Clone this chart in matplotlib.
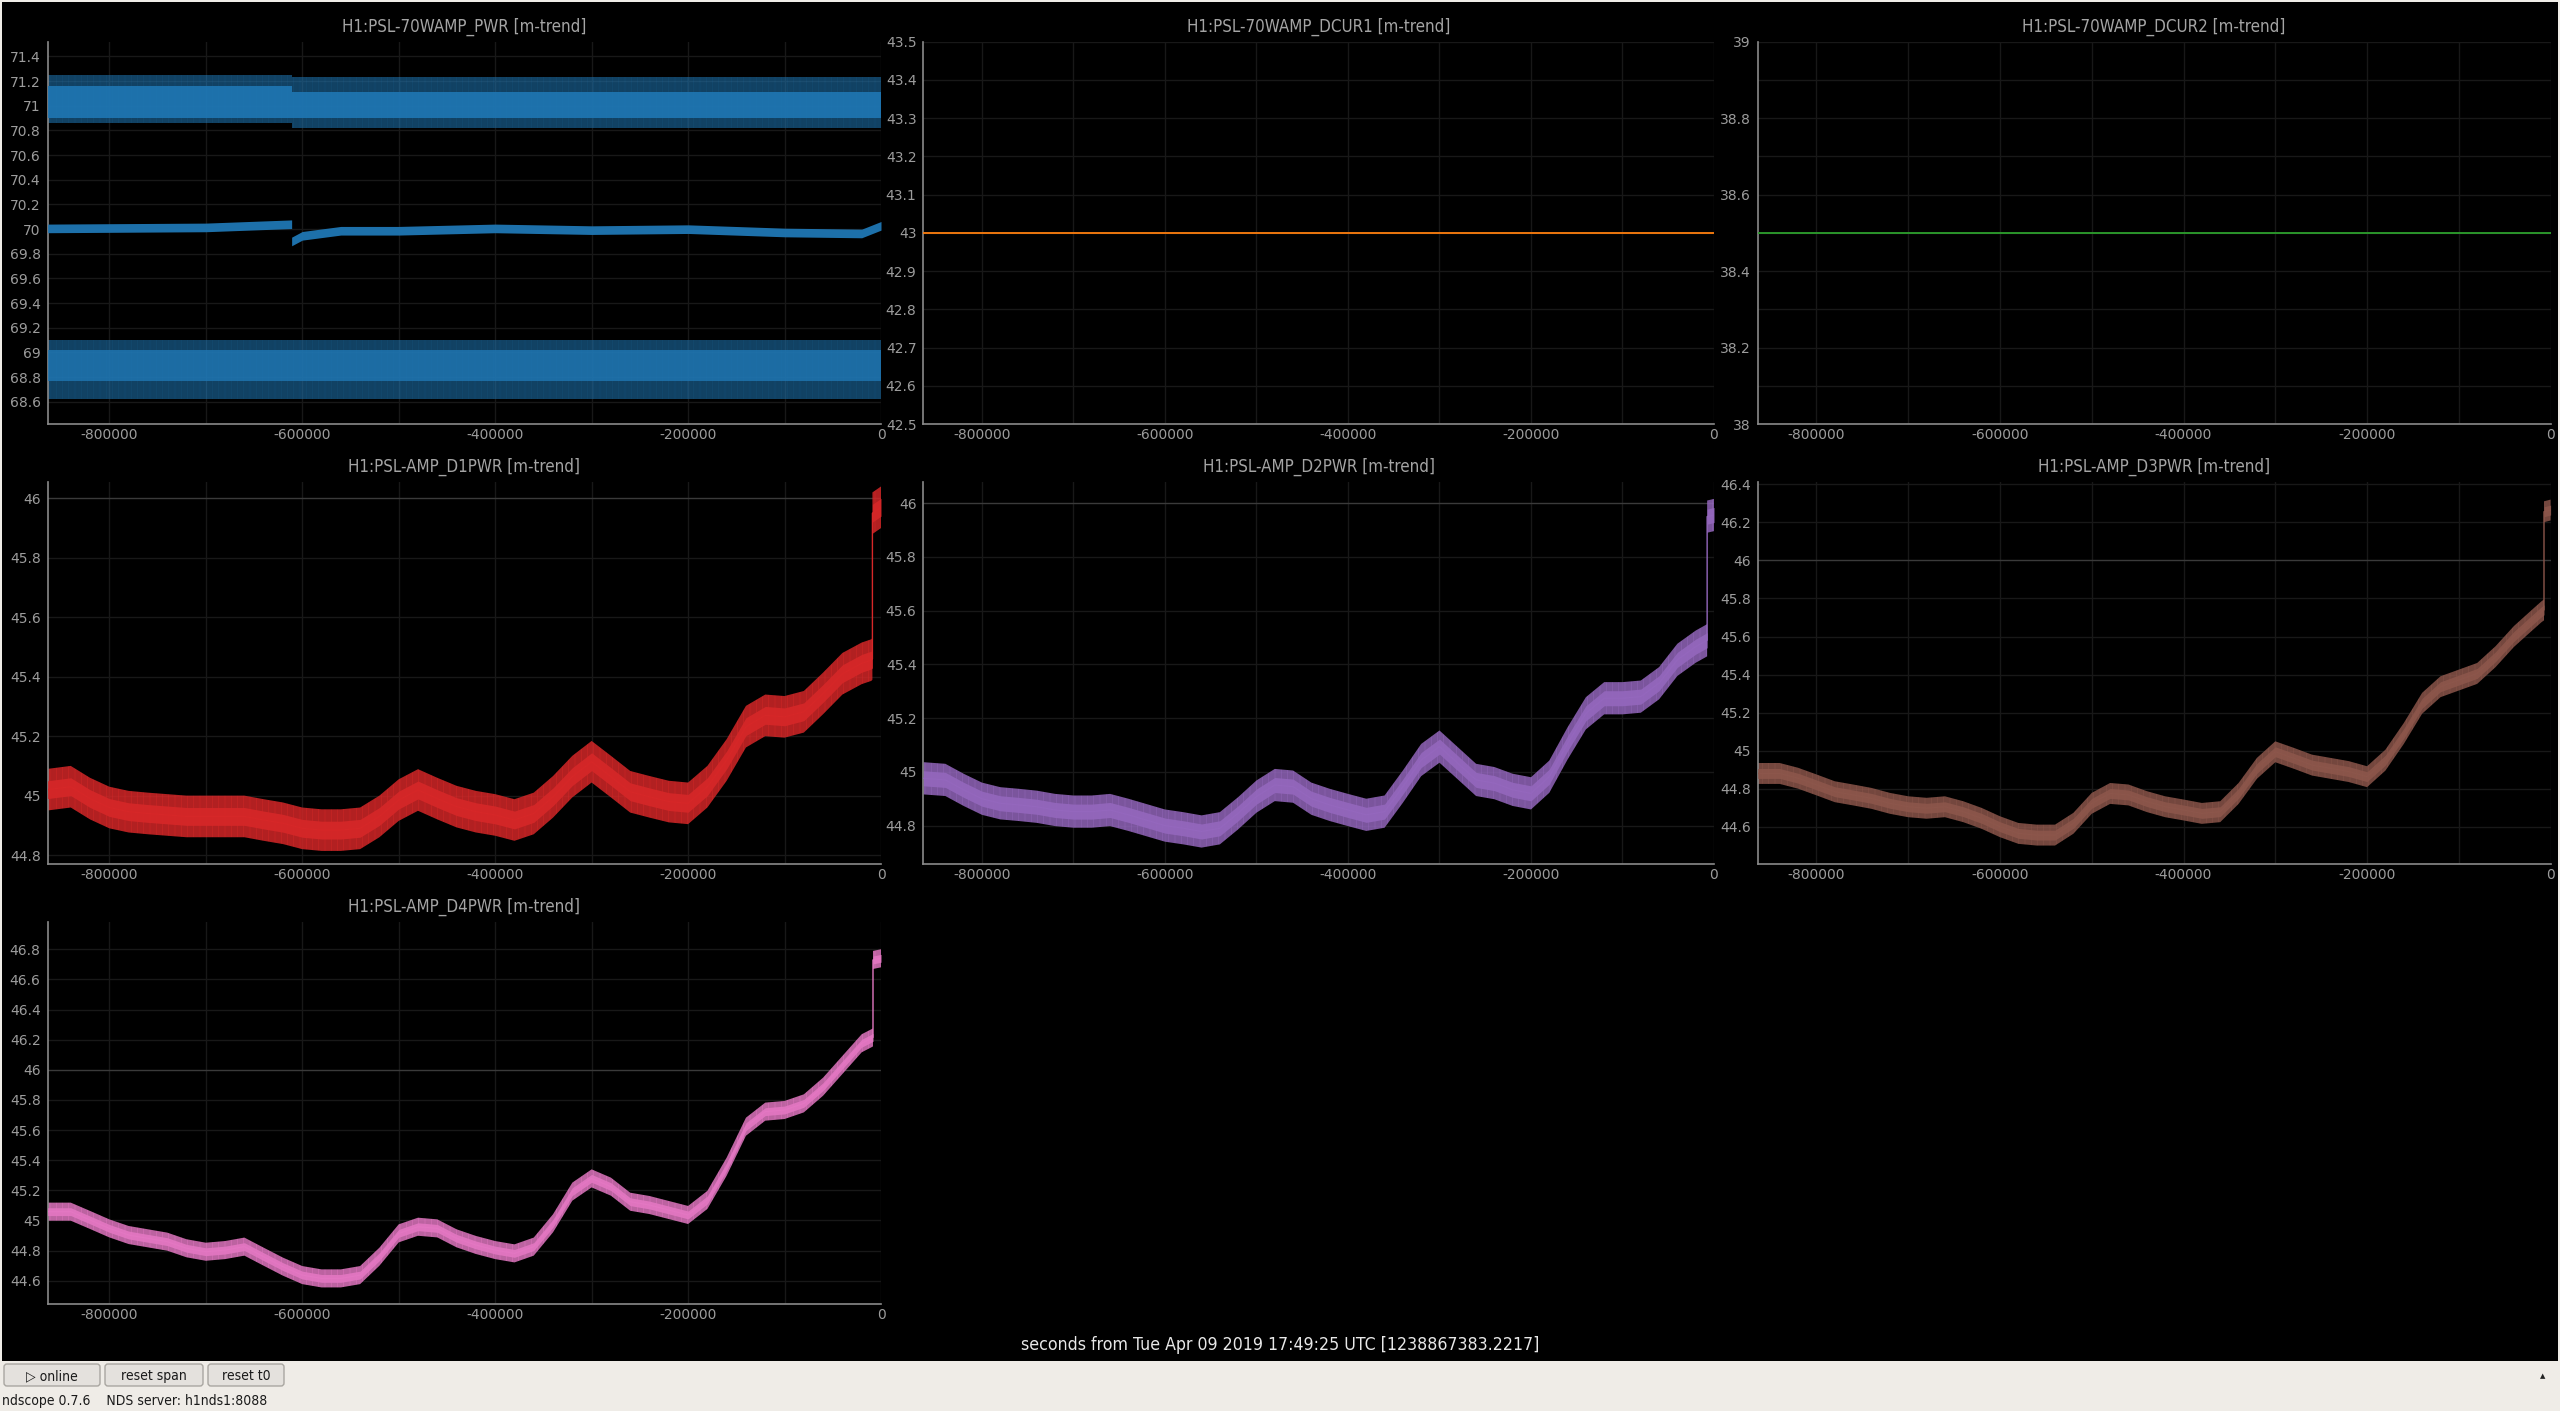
import matplotlib
matplotlib.use("Agg")
import matplotlib.pyplot as plt
from matplotlib.patches import Rectangle, FancyBboxPatch
from matplotlib.ticker import FuncFormatter

W, H = 2560, 1411

# --- data (minute trends, seconds relative to t0) ---
t_pts = [-864000, -840000, -820000, -800000, -780000, -760000, -740000, -720000,
         -700000, -680000, -660000, -640000, -620000, -600000, -580000, -560000,
         -540000, -520000, -500000, -480000, -460000, -440000, -420000, -400000,
         -380000, -360000, -340000, -320000, -300000, -280000, -260000, -240000,
         -220000, -200000, -180000, -160000, -140000, -120000, -100000, -80000,
         -60000, -40000, -20000, -10000]

# last three values: before jump, after jump, at t=0
d1_vals = [45.02, 45.03, 44.99, 44.96, 44.946, 44.94, 44.935, 44.93, 44.93, 44.93,
           44.93, 44.918, 44.907, 44.89, 44.884, 44.884, 44.89, 44.93, 44.985, 45.019,
           44.99, 44.963, 44.946, 44.935, 44.918, 44.94, 44.996, 45.064, 45.114, 45.064,
           45.013, 44.996, 44.98, 44.974, 45.03, 45.12, 45.232, 45.27, 45.265, 45.282,
           45.344, 45.41, 45.445, 45.456, 45.46, 45.95, 45.97]
d2_vals = [44.976, 44.97, 44.933, 44.90, 44.883, 44.877, 44.87, 44.858, 44.852, 44.852,
           44.858, 44.84, 44.82, 44.80, 44.79, 44.778, 44.79, 44.846, 44.908, 44.951,
           44.945, 44.90, 44.877, 44.858, 44.84, 44.852, 44.945, 45.044, 45.094, 45.032,
           44.97, 44.958, 44.933, 44.92, 44.982, 45.106, 45.218, 45.274, 45.274, 45.28,
           45.33, 45.417, 45.466, 45.485, 45.49, 45.95, 45.956]
d3_vals = [44.88, 44.88, 44.855, 44.82, 44.784, 44.767, 44.749, 44.723, 44.705, 44.697,
           44.705, 44.679, 44.644, 44.60, 44.565, 44.556, 44.556, 44.618, 44.723, 44.775,
           44.767, 44.732, 44.705, 44.688, 44.67, 44.679, 44.775, 44.907, 44.994, 44.96,
           44.924, 44.907, 44.89, 44.863, 44.95, 45.09, 45.249, 45.336, 45.371, 45.406,
           45.494, 45.60, 45.687, 45.73, 45.74, 46.256, 46.265]
d4_vals = [45.058, 45.058, 45.003, 44.947, 44.903, 44.881, 44.859, 44.815, 44.792, 44.803,
           44.826, 44.759, 44.693, 44.637, 44.615, 44.615, 44.637, 44.759, 44.914, 44.958,
           44.947, 44.881, 44.837, 44.803, 44.781, 44.826, 44.981, 45.191, 45.279, 45.224,
           45.124, 45.102, 45.069, 45.036, 45.136, 45.357, 45.622, 45.722, 45.733, 45.777,
           45.888, 46.032, 46.176, 46.209, 46.215, 46.729, 46.74]
jump_t = {"D1": -8900, "D2": -7500, "D3": -7200, "D4": -8300}
core_hw = {"D1": 0.03, "D2": 0.028, "D3": 0.026, "D4": 0.026}
fringe_hw = {"D1": 0.07, "D2": 0.06, "D3": 0.055, "D4": 0.06}

# 70WAMP_PWR: mean curve and min/max bands, step at ~-611000
pwr_t = [-864000, -700000, -611000, -611000, -600000, -560000, -500000, -400000,
         -300000, -200000, -100000, -20000, 0]
pwr_mean = [70.006, 70.014, 70.04, 69.90, 69.946, 69.987, 69.987, 70.006,
            69.992, 70.0, 69.973, 69.965, 70.027]
band_t = [-864000, -611000, -611000, 0]
max_core = ([71.03, 71.03, 71.03, 71.03], [71.16, 71.16, 71.11, 71.11])
max_mid = ([70.905, 70.905, 70.905, 70.905], [71.03, 71.03, 71.03, 71.03])
max_fringe = ([70.86, 70.86, 70.82, 70.82], [71.25, 71.25, 71.23, 71.23])
min_core = ([68.77, 68.77, 68.77, 68.77], [69.02, 69.02, 69.02, 69.02])
min_fringe = ([68.62, 68.62, 68.62, 68.62], [69.1, 69.1, 69.1, 69.1])

dcur1_t, dcur1_v = [-864000, 0], [43.0, 43.0]
dcur2_t, dcur2_v = [-864000, 0], [38.5, 38.5]

x_ticks = [-800000, -600000, -400000, -200000, 0]
x_grid = [-800000, -700000, -600000, -500000, -400000, -300000, -200000, -100000, 0]
pwr_yticks = [68.6, 68.8, 69.0, 69.2, 69.4, 69.6, 69.8, 70.0, 70.2, 70.4, 70.6,
              70.8, 71.0, 71.2, 71.4]
dcur1_yticks = [42.5, 42.6, 42.7, 42.8, 42.9, 43.0, 43.1, 43.2, 43.3, 43.4, 43.5]
dcur2_yticks = [38.0, 38.2, 38.4, 38.6, 38.8, 39.0]
dcur2_ygrid = [38.1, 38.3, 38.5, 38.7, 38.9]
d1_yticks = [44.8, 45.0, 45.2, 45.4, 45.6, 45.8, 46.0]
d2_yticks = [44.8, 45.0, 45.2, 45.4, 45.6, 45.8, 46.0]
d3_yticks = [44.6, 44.8, 45.0, 45.2, 45.4, 45.6, 45.8, 46.0, 46.2, 46.4]
d4_yticks = [44.6, 44.8, 45.0, 45.2, 45.4, 45.6, 45.8, 46.0, 46.2, 46.4, 46.6, 46.8]

# --- style ---
FONT = dict(family="DejaVu Sans", fontstretch="condensed")
TXT = "#9c9c9c"
GRID = "#181818"
GRID_HI = "#3a3a3a"
COLS = [(47.6, 881.0), (923.4, 1714.0), (1757.7, 2550.6)]
ROWS = [(41.7, 424.0), (481.7, 864.0), (921.7, 1304.0)]
HATCH = "|" * 14
plt.rcParams["hatch.linewidth"] = 0.8

fig = plt.figure(figsize=(W / 100, H / 100), dpi=100, facecolor="#efece7")

bg = fig.add_axes([0, 0, 1, 1])
bg.set_xlim(0, W)
bg.set_ylim(H, 0)
bg.axis("off")
bg.set_zorder(-5)
bg.add_patch(Rectangle((2, 2), W - 4, 1359, color="black", lw=0))


def make_axes(col, row, ylim, yticks, title, extra_grid=()):
    x0, x1 = COLS[col]
    y0, y1 = ROWS[row]
    ax = fig.add_axes([x0 / W, 1 - y1 / H, (x1 - x0) / W, (y1 - y0) / H])
    ax.set_facecolor("black")
    ax.set_xlim(-864000, 0)
    ax.set_ylim(*ylim)
    for s in ("top", "right"):
        ax.spines[s].set_visible(False)
    for s in ("left", "bottom"):
        ax.spines[s].set_color("#8a8a8a")
        ax.spines[s].set_linewidth(1.2)
    ax.set_xticks(x_ticks)
    ax.set_yticks(yticks)
    ax.xaxis.set_major_formatter(FuncFormatter(lambda v, p: "%d" % round(v)))
    ax.yaxis.set_major_formatter(FuncFormatter(lambda v, p: "%g" % round(v, 6)))
    ax.tick_params(length=0, colors=TXT, labelsize=10)
    ax.tick_params(axis="y", pad=5)
    ax.tick_params(axis="x", pad=3)
    for xg in x_grid:
        ax.axvline(xg, color=GRID, lw=1, zorder=0)
    for yg in list(yticks) + list(extra_grid):
        c = GRID_HI if abs(yg - 46.0) < 1e-6 else GRID
        ax.axhline(yg, color=c, lw=1, zorder=0)
    ax.text(0.5, 1 + 15 / (y1 - y0), title, transform=ax.transAxes, ha="center",
            va="center", color="#a4a4a4", fontsize=12.2, **FONT)
    return ax


def trend(ax, name, vals, color):
    t = t_pts + [jump_t[name], jump_t[name], 0]
    lo_f = [v - fringe_hw[name] for v in vals]
    hi_f = [v + fringe_hw[name] for v in vals]
    lo_c = [v - core_hw[name] for v in vals]
    hi_c = [v + core_hw[name] for v in vals]
    ax.fill_between(t, lo_f, hi_f, facecolor="none", edgecolor=color, hatch=HATCH,
                    lw=0, alpha=0.9, zorder=2)
    ax.fill_between(t, lo_c, hi_c, color=color, alpha=0.9, lw=0, zorder=3)
    ax.plot(t, vals, color=color, lw=1.0, zorder=4)


# row 1
ax = make_axes(0, 0, (68.42, 71.52), pwr_yticks, "H1:PSL-70WAMP_PWR [m-trend]")
blue = "#1f77b4"
for lo, hi in (max_fringe, min_fringe):
    ax.fill_between(band_t, lo, hi, facecolor="none", edgecolor=blue, hatch=HATCH,
                    lw=0, alpha=0.6, zorder=2)
ax.fill_between(band_t, *max_mid, facecolor="none", edgecolor=blue, hatch="|" * 24,
                lw=0, alpha=0.9, zorder=3)
ax.fill_between(band_t, *max_core, color=blue, alpha=0.9, lw=0, zorder=4)
ax.fill_between(band_t, *min_core, color=blue, alpha=0.8, lw=0, zorder=4)
ax.fill_between(pwr_t, [v - 0.035 for v in pwr_mean], [v + 0.035 for v in pwr_mean],
                color=blue, alpha=0.95, lw=0, zorder=4)

ax = make_axes(1, 0, (42.5, 43.5), dcur1_yticks, "H1:PSL-70WAMP_DCUR1 [m-trend]")
ax.plot(dcur1_t, dcur1_v, color="#ff7f0e", lw=1.3, zorder=4)

ax = make_axes(2, 0, (38.0, 39.0), dcur2_yticks, "H1:PSL-70WAMP_DCUR2 [m-trend]",
               extra_grid=dcur2_ygrid)
ax.plot(dcur2_t, dcur2_v, color="#2ca02c", lw=1.3, zorder=4)

# row 2
ax = make_axes(0, 1, (44.77, 46.056), d1_yticks, "H1:PSL-AMP_D1PWR [m-trend]")
trend(ax, "D1", d1_vals, "#d62728")
ax = make_axes(1, 1, (44.657, 46.08), d2_yticks, "H1:PSL-AMP_D2PWR [m-trend]")
trend(ax, "D2", d2_vals, "#9467bd")
ax = make_axes(2, 1, (44.404, 46.414), d3_yticks, "H1:PSL-AMP_D3PWR [m-trend]")
trend(ax, "D3", d3_vals, "#8c564b")

# row 3
ax = make_axes(0, 2, (44.445, 46.983), d4_yticks, "H1:PSL-AMP_D4PWR [m-trend]")
trend(ax, "D4", d4_vals, "#e377c2")

# bottom label and status bar
bg.text(1280, 1345, "seconds from Tue Apr 09 2019 17:49:25 UTC [1238867383.2217]",
        ha="center", va="center", color="#e8e8e8", fontsize=12.7, **FONT)

buttons = [("\u25b7 online", 3, 101), ("reset span", 104, 204), ("reset t0", 207, 285)]
for label, bx0, bx1 in buttons:
    bg.add_patch(FancyBboxPatch((bx0 + 1, 1364), bx1 - bx0 - 2, 22,
                                boxstyle="round,pad=0,rounding_size=3",
                                fc="#e4e1dd", ec="#a9a6a1", lw=1))
    bg.text((bx0 + bx1) / 2, 1376, label, ha="center", va="center",
            color="#1a1a1a", fontsize=10, **FONT)
bg.text(2, 1401, "ndscope 0.7.6    NDS server: h1nds1:8088", ha="left", va="center",
        color="#1a1a1a", fontsize=10, **FONT)
bg.text(2543, 1376, "\u25b2", ha="center", va="center", color="#222222", fontsize=5)

fig.savefig("out.png", dpi=100, facecolor=fig.get_facecolor())
